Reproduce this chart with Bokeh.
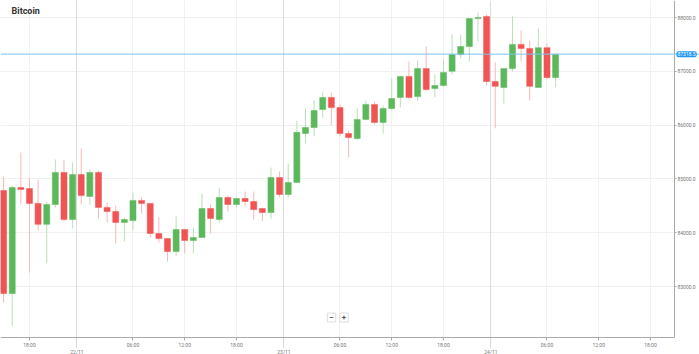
from bokeh.plotting import figure
from bokeh.models import (Range1d, LinearAxis, FixedTicker, NumeralTickFormatter,
                          Span, Label, Grid, ColumnDataSource, BoxAnnotation)
from bokeh.embed import file_html
from bokeh.resources import INLINE

# hourly candles, x = hours since 21/11 00:00 (first candle 21/11 15:00)
hours = list(range(15, 80))
opens = [84785, 82870, 84840, 84820, 84545, 84155, 84525, 85120, 84245, 85080,
         84675, 85120, 84470, 84395, 84190, 84225, 84600, 84545, 83985, 83890,
         83650, 84060, 83855, 83910, 84450, 84245, 84655, 84525, 84635, 84580,
         84450, 84375, 85025, 84710, 84935, 85845, 85955, 86290, 86515, 86325,
         85845, 85750, 86105, 86385, 86050, 86310, 86515, 86905, 86530, 87050,
         86680, 86735, 87000, 87310, 87460, 87980, 88020, 86810, 86700, 87050,
         87500, 87425, 86700, 87440, 86885]
highs = [85045, 84875, 85490, 85025, 84990, 84580, 85360, 85360, 85305, 85565,
         85175, 85155, 84560, 84505, 84285, 84745, 84655, 84545, 84285, 83890,
         84300, 84060, 84095, 84730, 84525, 84840, 84690, 84655, 84765, 84765,
         84470, 85210, 85140, 85285, 86085, 86310, 86455, 86605, 86605, 86385,
         85900, 86310, 86455, 86440, 86365, 86865, 86905, 87180, 87200, 87460,
         86940, 87220, 87685, 87685, 87980, 88095, 88055, 87165, 87050, 88020,
         87760, 87575, 87795, 87515, 87310]
lows = [82705, 82275, 84525, 83260, 84040, 83430, 84470, 84210, 84080, 84525,
        84525, 84265, 84190, 83800, 83835, 84040, 84355, 83910, 83820, 83465,
        83560, 83615, 83615, 83910, 83985, 84190, 84395, 84470, 84485, 84245,
        84210, 84265, 84655, 84655, 84935, 85660, 85790, 86140, 85995, 85790,
        85400, 85730, 86085, 86010, 85845, 86275, 86330, 86475, 86440, 86645,
        86515, 86715, 86940, 87240, 87180, 87555, 86735, 85940, 86400, 86995,
        87180, 86455, 86700, 86850, 86700]
closes = [82870, 84840, 84805, 84545, 84155, 84525, 85120, 84245, 85080, 84690,
          85120, 84470, 84395, 84190, 84245, 84600, 84545, 83985, 83890, 83650,
          84060, 83855, 83910, 84450, 84265, 84655, 84525, 84635, 84580, 84430,
          84375, 85025, 84710, 84935, 85865, 85955, 86270, 86515, 86325, 85845,
          85770, 86105, 86385, 86050, 86310, 86495, 86905, 86515, 87050, 86660,
          86735, 86980, 87310, 87460, 87980, 88000, 86810, 86720, 87050, 87500,
          87425, 86720, 87440, 86885, 87318.5]
current_price = 87318.5

hour_ticks = [18, 30, 36, 42, 54, 60, 66, 78, 84, 90]
hour_labels = ["18:00", "06:00", "12:00", "18:00", "06:00", "12:00", "18:00",
               "06:00", "12:00", "18:00"]
day_ticks = [23.5, 47.5, 71.5]
day_labels = ["22/11", "23/11", "24/11"]
y_ticks = [83000, 84000, 85000, 86000, 87000, 88000]

# ---- geometry (canvas 699x354, frame covers the whole canvas) ----
W, H = 699, 354
X0 = 14.64            # hours at left edge
PX_PER_HOUR = 8.625
Y_TOP = 88316         # price at top edge
PX_PER_USD = 53.8 / 1000
AXIS_X_PX = 674       # price axis line
AXIS_Y_PX = 337       # time axis line


def hx(px):
    return X0 + px / PX_PER_HOUR


def py(px):
    return Y_TOP - px / PX_PER_USD


UP = "#5cb85c"
DOWN = "#f05454"
UP_WICK = "#b9e0b6"
DOWN_WICK = "#f8b8b8"
FONT = "Roboto"
LBL = "#777777"
LINE = "#aaaaaa"

up = [c >= o for o, c in zip(opens, closes)]
src = ColumnDataSource(dict(
    x=hours,
    top=[max(o, c) for o, c in zip(opens, closes)],
    bottom=[min(o, c) for o, c in zip(opens, closes)],
    high=highs, low=lows,
    color=[UP if u else DOWN for u in up],
    wick=[UP_WICK if u else DOWN_WICK for u in up],
))

p = figure(width=W, height=H,
           x_range=Range1d(hx(0), hx(W)), y_range=Range1d(py(H), py(0)),
           y_axis_location="right", output_backend="svg", toolbar_location=None,
           min_border_left=0, min_border_top=0, min_border_right=0,
           min_border_bottom=0)
p.outline_line_color = None
p.background_fill_color = "white"
p.border_fill_color = "white"

# hours axis
xa = p.xaxis[0]
xa.fixed_location = py(AXIS_Y_PX)
xa.bounds = (hx(0), hx(AXIS_X_PX))
xa.ticker = FixedTicker(ticks=hour_ticks)
xa.major_label_overrides = {t: l for t, l in zip(hour_ticks, hour_labels)}
xa.major_tick_out = 3
xa.major_tick_in = 0
xa.minor_tick_out = 0
xa.minor_tick_in = 0
xa.major_label_standoff = 1
xa.major_label_text_font_size = "5px"
xa.major_label_text_font = FONT
xa.major_label_text_color = LBL
xa.axis_line_color = LINE
xa.major_tick_line_color = LINE

# day axis
xa2 = LinearAxis(ticker=FixedTicker(ticks=day_ticks),
                 major_label_overrides={t: l for t, l in zip(day_ticks, day_labels)},
                 fixed_location=py(AXIS_Y_PX + 10),
                 axis_line_color=None, major_tick_in=10, major_tick_out=0,
                 minor_tick_in=0, minor_tick_out=0,
                 major_tick_line_color="#b0b0b0", major_tick_line_dash="1 1",
                 major_label_standoff=1, major_label_text_font_size="5px",
                 major_label_text_font=FONT, major_label_text_color=LBL)
p.add_layout(xa2, "below")

# price axis
ya = p.yaxis[0]
ya.fixed_location = hx(AXIS_X_PX)
ya.bounds = (py(AXIS_Y_PX), py(0))
ya.ticker = FixedTicker(ticks=y_ticks)
ya.formatter = NumeralTickFormatter(format="0.0")
ya.major_tick_out = 2
ya.major_tick_in = 0
ya.minor_tick_out = 0
ya.minor_tick_in = 0
ya.major_label_standoff = 1
ya.major_label_text_font_size = "5px"
ya.major_label_text_font = FONT
ya.major_label_text_color = LBL
ya.axis_line_color = LINE
ya.major_tick_line_color = LINE

p.xgrid.grid_line_color = "#f2f2f2"
p.ygrid.grid_line_color = "#f0f0f0"
p.add_layout(Grid(dimension=0, ticker=FixedTicker(ticks=day_ticks),
                  grid_line_color="#dddddd"))

# white strips under the axes (hide grid lines outside the chart area)
p.add_layout(BoxAnnotation(left=hx(AXIS_X_PX), fill_color="white", fill_alpha=1,
                           line_color=None, level="glyph"))
p.add_layout(BoxAnnotation(top=py(AXIS_Y_PX), fill_color="white", fill_alpha=1,
                           line_color=None, level="glyph"))

p.segment(x0="x", x1="x", y0="low", y1="high", color="wick", line_width=1, source=src)
p.vbar(x="x", width=0.7, top="top", bottom="bottom", fill_color="color",
       line_color="color", line_width=0.5, source=src)

p.add_layout(Span(location=current_price, dimension="width",
                  line_color="#7dc3ee", line_width=1))

p.add_layout(Label(x=AXIS_X_PX + 2, y=current_price, x_units="screen", y_units="data",
                   text=f"{current_price:.1f}", text_font_size="5px", text_font=FONT,
                   text_color="white", text_baseline="middle",
                   background_fill_color="#2196f3", border_radius=2, padding=1))

p.add_layout(Label(x=11, y=H - 10, x_units="screen", y_units="screen", text="Bitcoin",
                   text_font_size="9px", text_font=FONT, text_font_style="bold",
                   text_color="#333333", text_baseline="middle"))

for bx, t in [(331, "\u2212"), (343.5, "+")]:
    p.add_layout(Label(x=bx, y=H - 317, x_units="screen", y_units="screen", text=t,
                       text_font_size="8px", text_font=FONT, text_font_style="bold",
                       text_color="#555555", text_align="center",
                       text_baseline="middle", background_fill_color="white",
                       border_line_color="#dddddd", padding=2))

open("out.html", "w").write(file_html(p, INLINE))
